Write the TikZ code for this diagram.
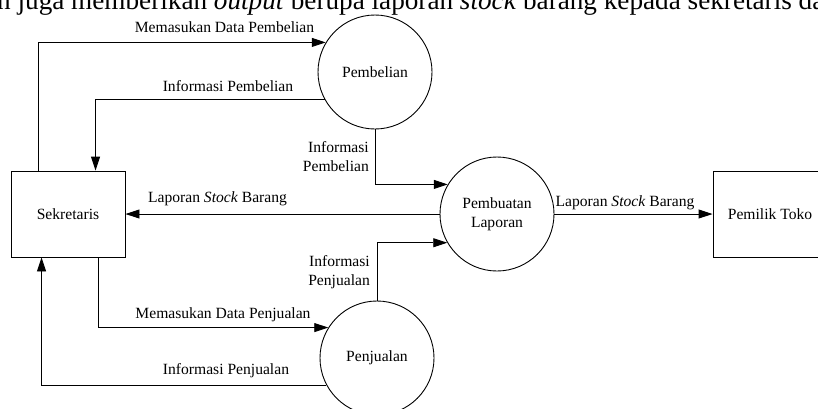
\documentclass[tikz,border=0pt]{standalone}
\usepackage{fontspec}
\setmainfont{Liberation Serif}
\usetikzlibrary{arrows.meta}
\newcommand\dfdfont{\fontsize{15.6}{19}\selectfont}
\begin{document}
\begin{tikzpicture}[x=1pt,y=-1pt,
  line/.style={draw=black,line width=0.9pt},
  flow/.style={line,-{Triangle[length=14pt,width=9pt]}},
  ent/.style={draw=black,line width=0.9pt,minimum width=114pt,minimum height=86pt,inner sep=0pt,font=\dfdfont},
  proc/.style={draw=black,line width=0.9pt,circle,minimum size=114pt,inner sep=0pt,align=center,font=\dfdfont},
  lab/.style={inner sep=0pt,font=\dfdfont,align=center}]
\useasboundingbox (0,0) rectangle (818,408);
\clip (0,0) rectangle (818,408);
\fill[white] (0,0) rectangle (818,408);

% cut-off paragraph line
\node[anchor=base west,inner sep=0pt,font=\fontsize{27.2}{32}\selectfont] (para) at (-3,9.5)
  {n juga memberikan \textit{output} berupa laporan \textit{stock} barang kepada sekretaris dan};

% entities
\node[ent] (sek) at (68,214) {Sekretaris};
\node[ent] (own) at (770,214) {Pemilik Toko};

% processes
\node[proc] (beli) at (375,72) {Pembelian};
\node[proc] (lap) at (497,214) {Pembuatan\\Laporan};
\node[proc] (jual) at (377,358) {Penjualan};

% helper coordinates
\coordinate (s1) at ([xshift=28pt]sek.north west);
\coordinate (s2) at ([xshift=85pt]sek.north west);
\coordinate (s3) at ([xshift=31pt]sek.south west);
\coordinate (s4) at ([xshift=88pt]sek.south west);

% flows
\draw[flow] (s1) |- (beli.149.4);
\draw[flow] (beli.209.4) -| (s2);
\draw[flow] (beli.south) |- (lap.149.4);
\draw[flow] (lap.west) -- (sek.east);
\draw[flow] (jual.north) |- (lap.210.6);
\draw[flow] (s4) |- (jual.148.2);
\draw[flow] (jual.208.3) -| (s3);
\draw[flow] (lap.east) -- (own.west);

% labels
\node[lab] (t1) at (224.5,27) {Memasukan Data Pembelian};
\node[lab] (t2) at (228,86) {Informasi Pembelian};
\node[lab,anchor=east,align=right] (t3) at (369,157) {Informasi\\Pembelian};
\node[lab] (t4) at (217.5,199) {Laporan \textit{Stock} Barang};
\node[lab,anchor=east,align=right] (t5) at (370,272.5) {Informasi\\Penjualan};
\node[lab] (t6) at (223,315) {Memasukan Data Penjualan};
\node[lab] (t7) at (226,371) {Informasi Penjualan};
\node[lab] (t8) at (625,203) {Laporan \textit{Stock} Barang};
\end{tikzpicture}
\end{document}
